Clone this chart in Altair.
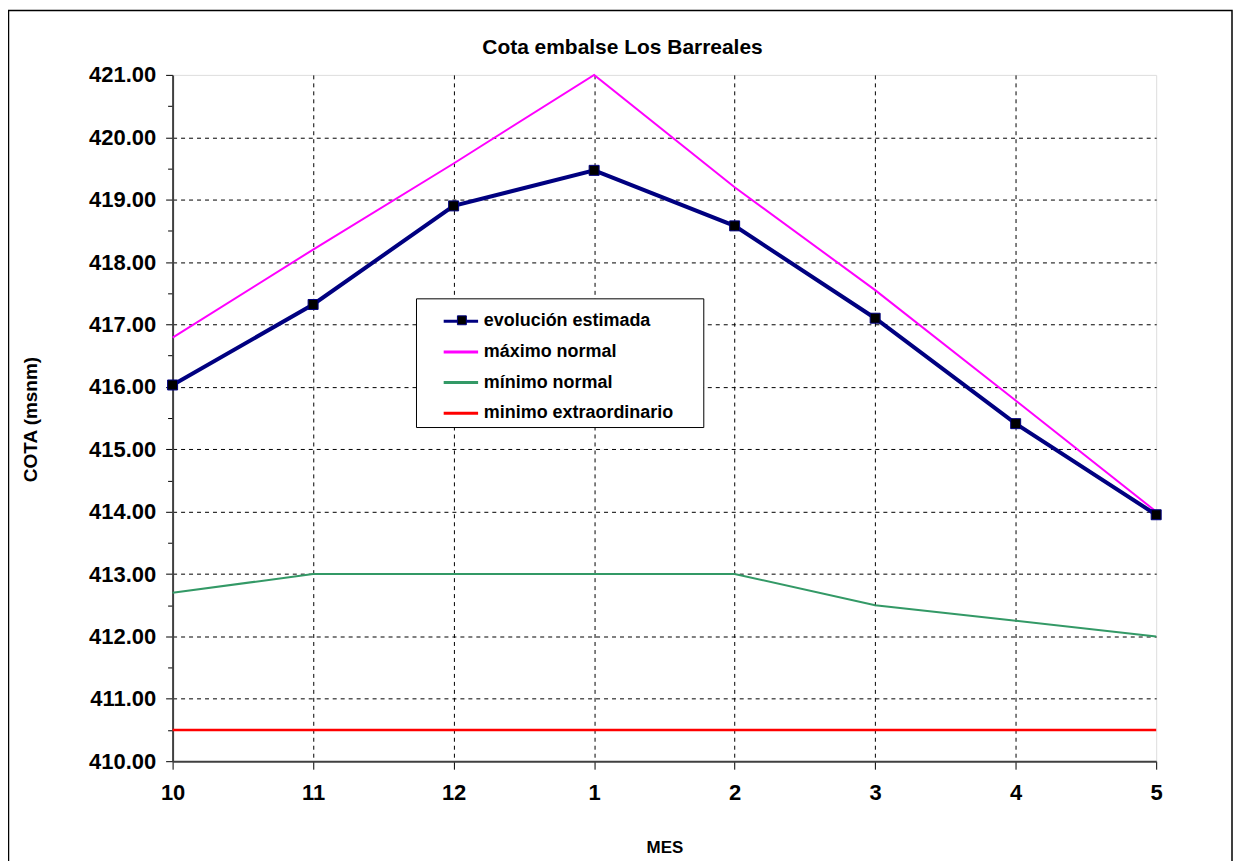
import altair as alt
import pandas as pd

FONT = "Liberation Sans"

meses = ["10", "11", "12", "1", "2", "3", "4", "5"]
evolucion = [416.03, 417.32, 418.90, 419.47, 418.58, 417.10, 415.41, 413.95]
maximo = [416.79, 418.20, 419.58, 421.00, 419.20, 417.55, 415.78, 414.00]
minimo = [412.70, 413.00, 413.00, 413.00, 413.00, 412.50, 412.25, 412.00]
minimo_extra = [410.50, 410.50, 410.50, 410.50, 410.50, 410.50, 410.50, 410.50]

series = ["evolución estimada", "máximo normal", "mínimo normal", "minimo extraordinario"]
colores = ["#000080", "#FF00FF", "#339966", "#FF0000"]
anchos = [4, 2, 2, 2.5]
valores = [evolucion, maximo, minimo, minimo_extra]

y_ticks = [410 + 0.5 * i for i in range(23)]

rows = []
for s, vals in zip(series, valores):
    for i, (m, v) in enumerate(zip(meses, vals)):
        rows.append({"serie": s, "mes": m, "idx": i, "cota": v})
df = pd.DataFrame(rows)

x = alt.X(
    "mes:O",
    sort=meses,
    scale=alt.Scale(type="point", padding=0),
    axis=alt.Axis(
        title="MES",
        labelAngle=0,
        labelFont=FONT,
        labelFontSize=22,
        labelFontWeight="bold",
        labelColor="black",
        labelPadding=13,
        tickSize=8,
        tickColor="black",
        tickWidth=1,
        domainColor="#404040",
        domainWidth=2,
        grid=True,
        gridColor="black",
        gridDash=[4, 4],
        gridWidth=1,
        gridOpacity={"condition": {"test": "datum.value == '10' || datum.value == '5'", "value": 0}, "value": 1},
        titleFont=FONT,
        titleFontSize=17,
        titleFontWeight="bold",
        titleColor="black",
        titleBaseline="middle",
        titleY=87,
    ),
)

y = alt.Y(
    "cota:Q",
    scale=alt.Scale(domain=[410, 421], nice=False, zero=False),
    axis=alt.Axis(
        title="COTA (msnm)",
        values=y_ticks,
        labelExpr="datum.value % 1 == 0 ? format(datum.value, '.2f') : ''",
        labelFont=FONT,
        labelFontSize=22,
        labelFontWeight="bold",
        labelColor="black",
        labelPadding=10,
        tickSize={"condition": {"test": "datum.value % 1 != 0", "value": 5}, "value": 7},
        tickColor="black",
        tickWidth=1,
        domainColor="#404040",
        domainWidth=2,
        grid=True,
        gridColor="black",
        gridDash=[4, 4],
        gridWidth=1,
        gridOpacity={"condition": {"test": "datum.value % 1 != 0 || datum.value >= 421 || datum.value <= 410", "value": 0}, "value": 1},
        titleFont=FONT,
        titleFontSize=19,
        titleFontWeight="bold",
        titleColor="black",
        titleAngle=-90,
        titleBaseline="middle",
        titleAlign="center",
        titleX=-142,
        titleY=345,
    ),
)

leg1 = alt.Legend(
    orient="none",
    legendX=244,
    legendY=224,
    title="\u00a0",
    titleOrient="right",
    titlePadding=26,
    titleFontSize=10,
    symbolType="stroke",
    symbolSize=1190,
    symbolStrokeWidth=3,
    symbolOffset=22,
    labelFont=FONT,
    labelFontSize=18,
    labelFontWeight="bold",
    labelColor="black",
    labelOffset=4,
    labelLimit=400,
    strokeColor="black",
    fillColor="white",
    padding=4,
    rowPadding=2.7,
)

leg2 = alt.Legend(
    orient="none",
    legendX=281,
    legendY=237,
    title=None,
    symbolType="square",
    symbolSize=80,
    symbolStrokeColor="#000080",
    symbolStrokeWidth=1,
    symbolFillColor="black",
    labelExpr="''",
    labelFontSize=18,
    padding=0,
)

color_scale = alt.Scale(domain=series, range=colores)

layers = []
frame = alt.Chart(pd.DataFrame({"a": [0]})).mark_rect(
    fillOpacity=0, stroke="black", strokeWidth=1.5
).encode(
    x=alt.value(-164.5), x2=alt.value(986 + 76), y=alt.value(-64.5), y2=alt.value(900)
)
layers.append(frame)

for k in [1, 2, 3, 0]:
    layers.append(
        alt.Chart(df)
        .transform_filter(alt.datum.serie == series[k])
        .mark_line(strokeWidth=anchos[k])
        .encode(
            x=x,
            y=y,
            order=alt.Order("idx:Q"),
            color=alt.Color("serie:N", scale=color_scale, legend=leg1),
        )
    )

points = (
    alt.Chart(df)
    .transform_filter(alt.datum.serie == series[0])
    .mark_point(shape="square", filled=True, size=100, stroke="#000080", strokeWidth=1, opacity=1)
    .encode(
        x=x,
        y=y,
        fill=alt.Fill("serie:N", scale=alt.Scale(domain=[series[0]], range=["black"]), legend=leg2),
    )
)
layers.append(points)

chart = (
    alt.layer(*layers)
    .properties(
        width=986,
        height=688,
        padding={"left": 165, "top": 66, "right": 77, "bottom": 99},
        autosize=alt.AutoSizeParams(type="none"),
        title=alt.Title(
            "Cota embalse Los Barreales",
            font=FONT,
            fontSize=21,
            fontWeight="bold",
            color="black",
            anchor="middle",
            dx=-42,
            offset=-48,
        ),
    )
    .configure_view(stroke="#808080", strokeWidth=1)
    .configure(background="white")
)

chart.save("out.html", embed_options={"renderer": "svg", "actions": False})
